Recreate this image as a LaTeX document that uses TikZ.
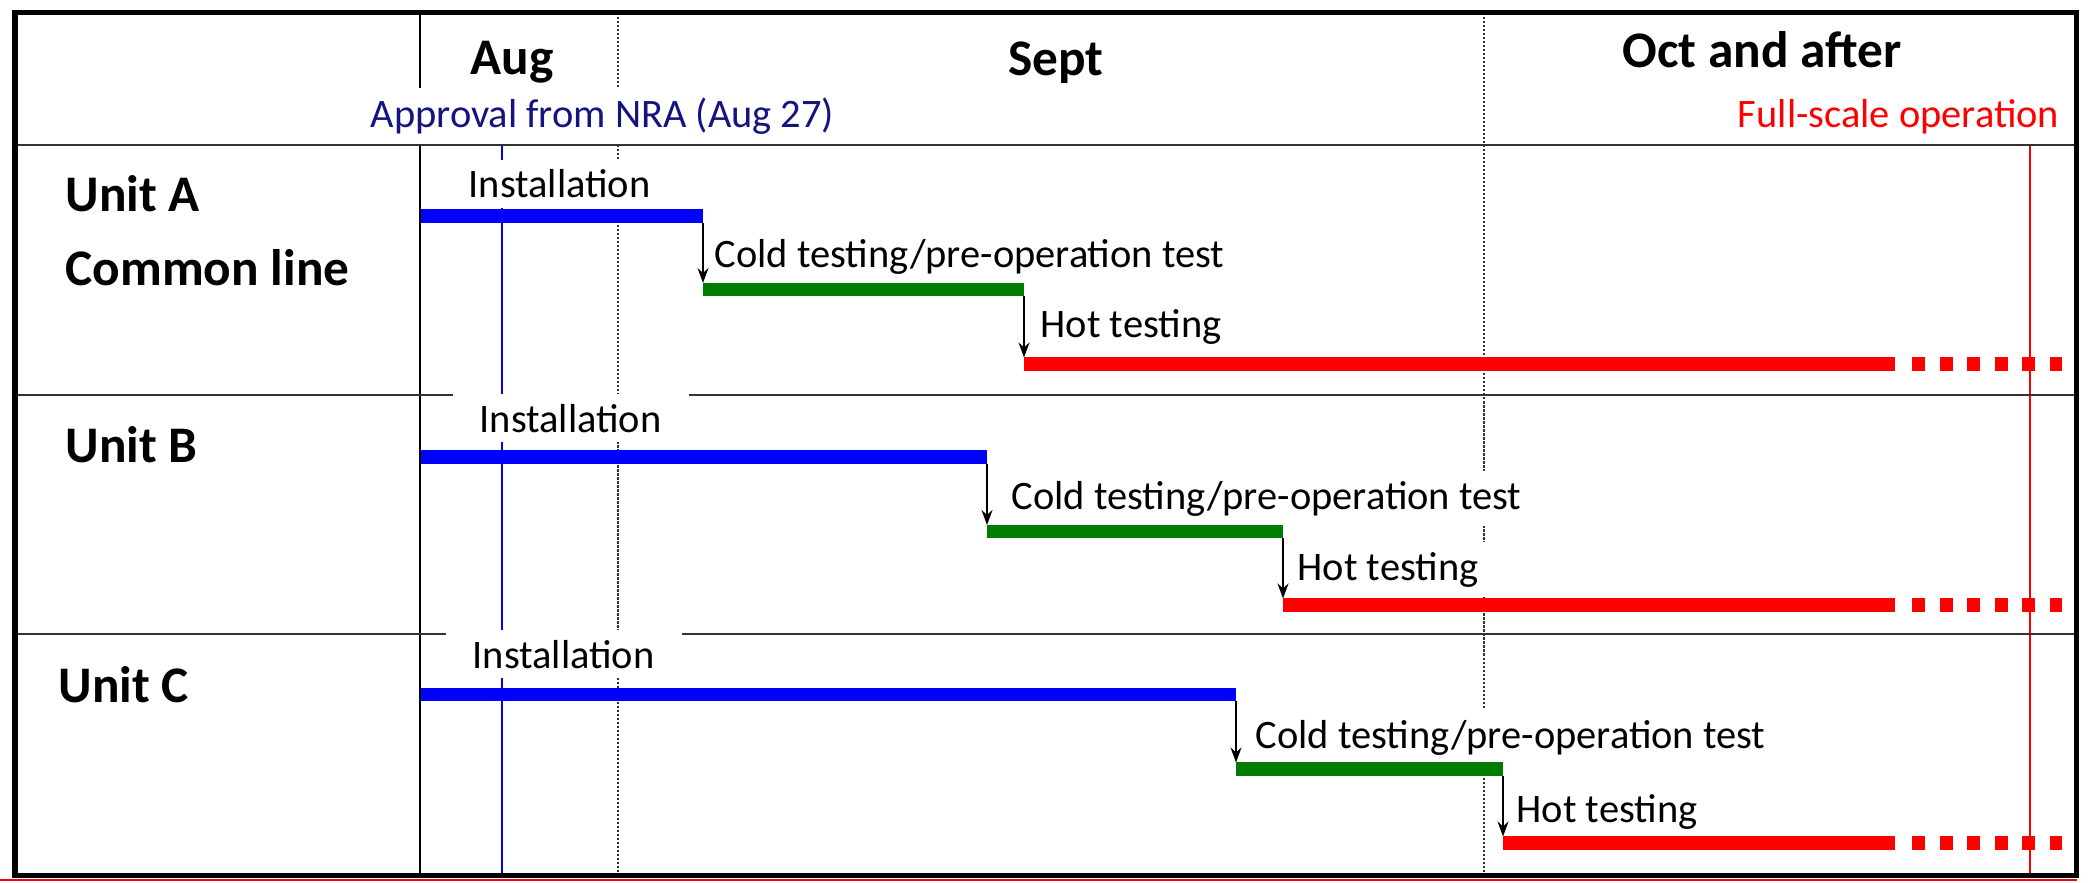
\documentclass[tikz,border=0pt]{standalone}
\usepackage{fontspec}
\setmainfont{Carlito}
\usetikzlibrary{arrows.meta}

\definecolor{approvalblue}{RGB}{20,20,128}
\definecolor{instblue}{RGB}{0,0,255}
\definecolor{coldgreen}{RGB}{0,125,0}
\definecolor{hotred}{RGB}{255,0,0}

\tikzset{
  px/.style={x=0.01cm,y=-0.01cm},
  frame/.style={line width=0.05cm},
  rule/.style={line width=0.022cm, black!80},
  monthsep/.style={line width=0.02cm, black!80, dash pattern=on 0.022cm off 0.018cm},
  instbar/.style={line width=0.135cm, instblue},
  coldbar/.style={line width=0.135cm, coldgreen},
  hotbar/.style={line width=0.135cm, hotred},
  flow/.style={line width=0.014cm, -{Stealth[length=0.15cm,width=0.11cm]},
    shorten <=0.065cm, shorten >=0.065cm},
  tag/.style={font=\fontsize{11.5}{14}\selectfont, fill=white, inner xsep=0.27cm, inner ysep=0.1cm},
  tagl/.style={tag, anchor=base west, xshift=-0.27cm},
  tagr/.style={tag, anchor=base east, xshift=0.27cm},
  head/.style={font=\fontsize{14.6}{17}\selectfont\bfseries, inner sep=0pt, anchor=base},
  unit/.style={head, anchor=base west},
}

\begin{document}
\begin{tikzpicture}[px]
\useasboundingbox (0,0) rectangle (2089,882);

%% grid
\draw[line width=0.016cm] (420,13) -- (420,875);
\foreach \x in {618,1484}
  \draw[monthsep] (\x,13) -- (\x,875);
\draw[instblue, line width=0.018cm] (502,143) -- (502,875);
\draw[hotred, line width=0.014cm] (2030,140) -- (2030,875);
\foreach \y in {395,634}
  \draw[rule] (15,\y) -- (2076,\y);

%% milestones
\node[tagl, text=approvalblue] (nra) at (370,128) {Approval from NRA (Aug 27)};
\node[tagr, text=hotred] (full) at (2060,128) {Full-scale operation};
\draw[rule] (15,145) -- (2076,145);

%% stage labels
\foreach \r/\ia/\ib/\ca/\cb/\ha/\hb in {A/468/198/714/267/1040/337,
  B/479/432/1011/509/1297/580, C/472/668/1255/748/1516/822}
{
  \node[tagl] (inst\r) at (\ia,\ib) {Installation};
  \node[tagl] (cold\r) at (\ca,\cb) {Cold testing/pre-operation test};
  \node[tagl] (hot\r) at (\ha,\hb) {Hot testing};
}

%% bars
\foreach \r/\ya/\yb/\yc/\xa/\xb in {A/216/289.5/364/703/1024,
  B/457/531.5/605/987/1283, C/694.5/769/843/1236/1503}
{
  \coordinate (\r0) at (421,\ya);
  \coordinate (\r1) at (\xa,\ya);
  \coordinate (\r2) at (\xa,\yb);
  \coordinate (\r3) at (\xb,\yb);
  \coordinate (\r4) at (\xb,\yc);
  \coordinate (\r5) at (1895,\yc);
  \coordinate (\r6) at (2062,\yc);
  \draw[instbar] (\r0) -- (\r1);
  \draw[coldbar] (\r2) -- (\r3);
  \draw[hotbar] (\r4) -- (\r5);
  \draw[hotbar, dash pattern=on 0.133cm off 0.142cm] (1912,\yc) -- (\r6);
  \draw[flow] (\r1) -- (\r2);
  \draw[flow] (\r3) -- (\r4);
}

%% headings
\node[head] (aug) at (512,75) {Aug};
\node[head] (sept) at (1056,76) {Sept};
\node[head] (oct) at (1762,68) {Oct and after};
\node[unit] (unitA) at (65,212) {Unit A};
\node[unit] (common) at (65,285) {Common line};
\node[unit] (unitB) at (65,462) {Unit B};
\node[unit] (unitC) at (58,702) {Unit C};

%% frame
\draw[frame] (15,13) rectangle (2076,875);
\draw[hotred, line width=0.02cm] (0,880) -- (2077,880);
\end{tikzpicture}
\end{document}
